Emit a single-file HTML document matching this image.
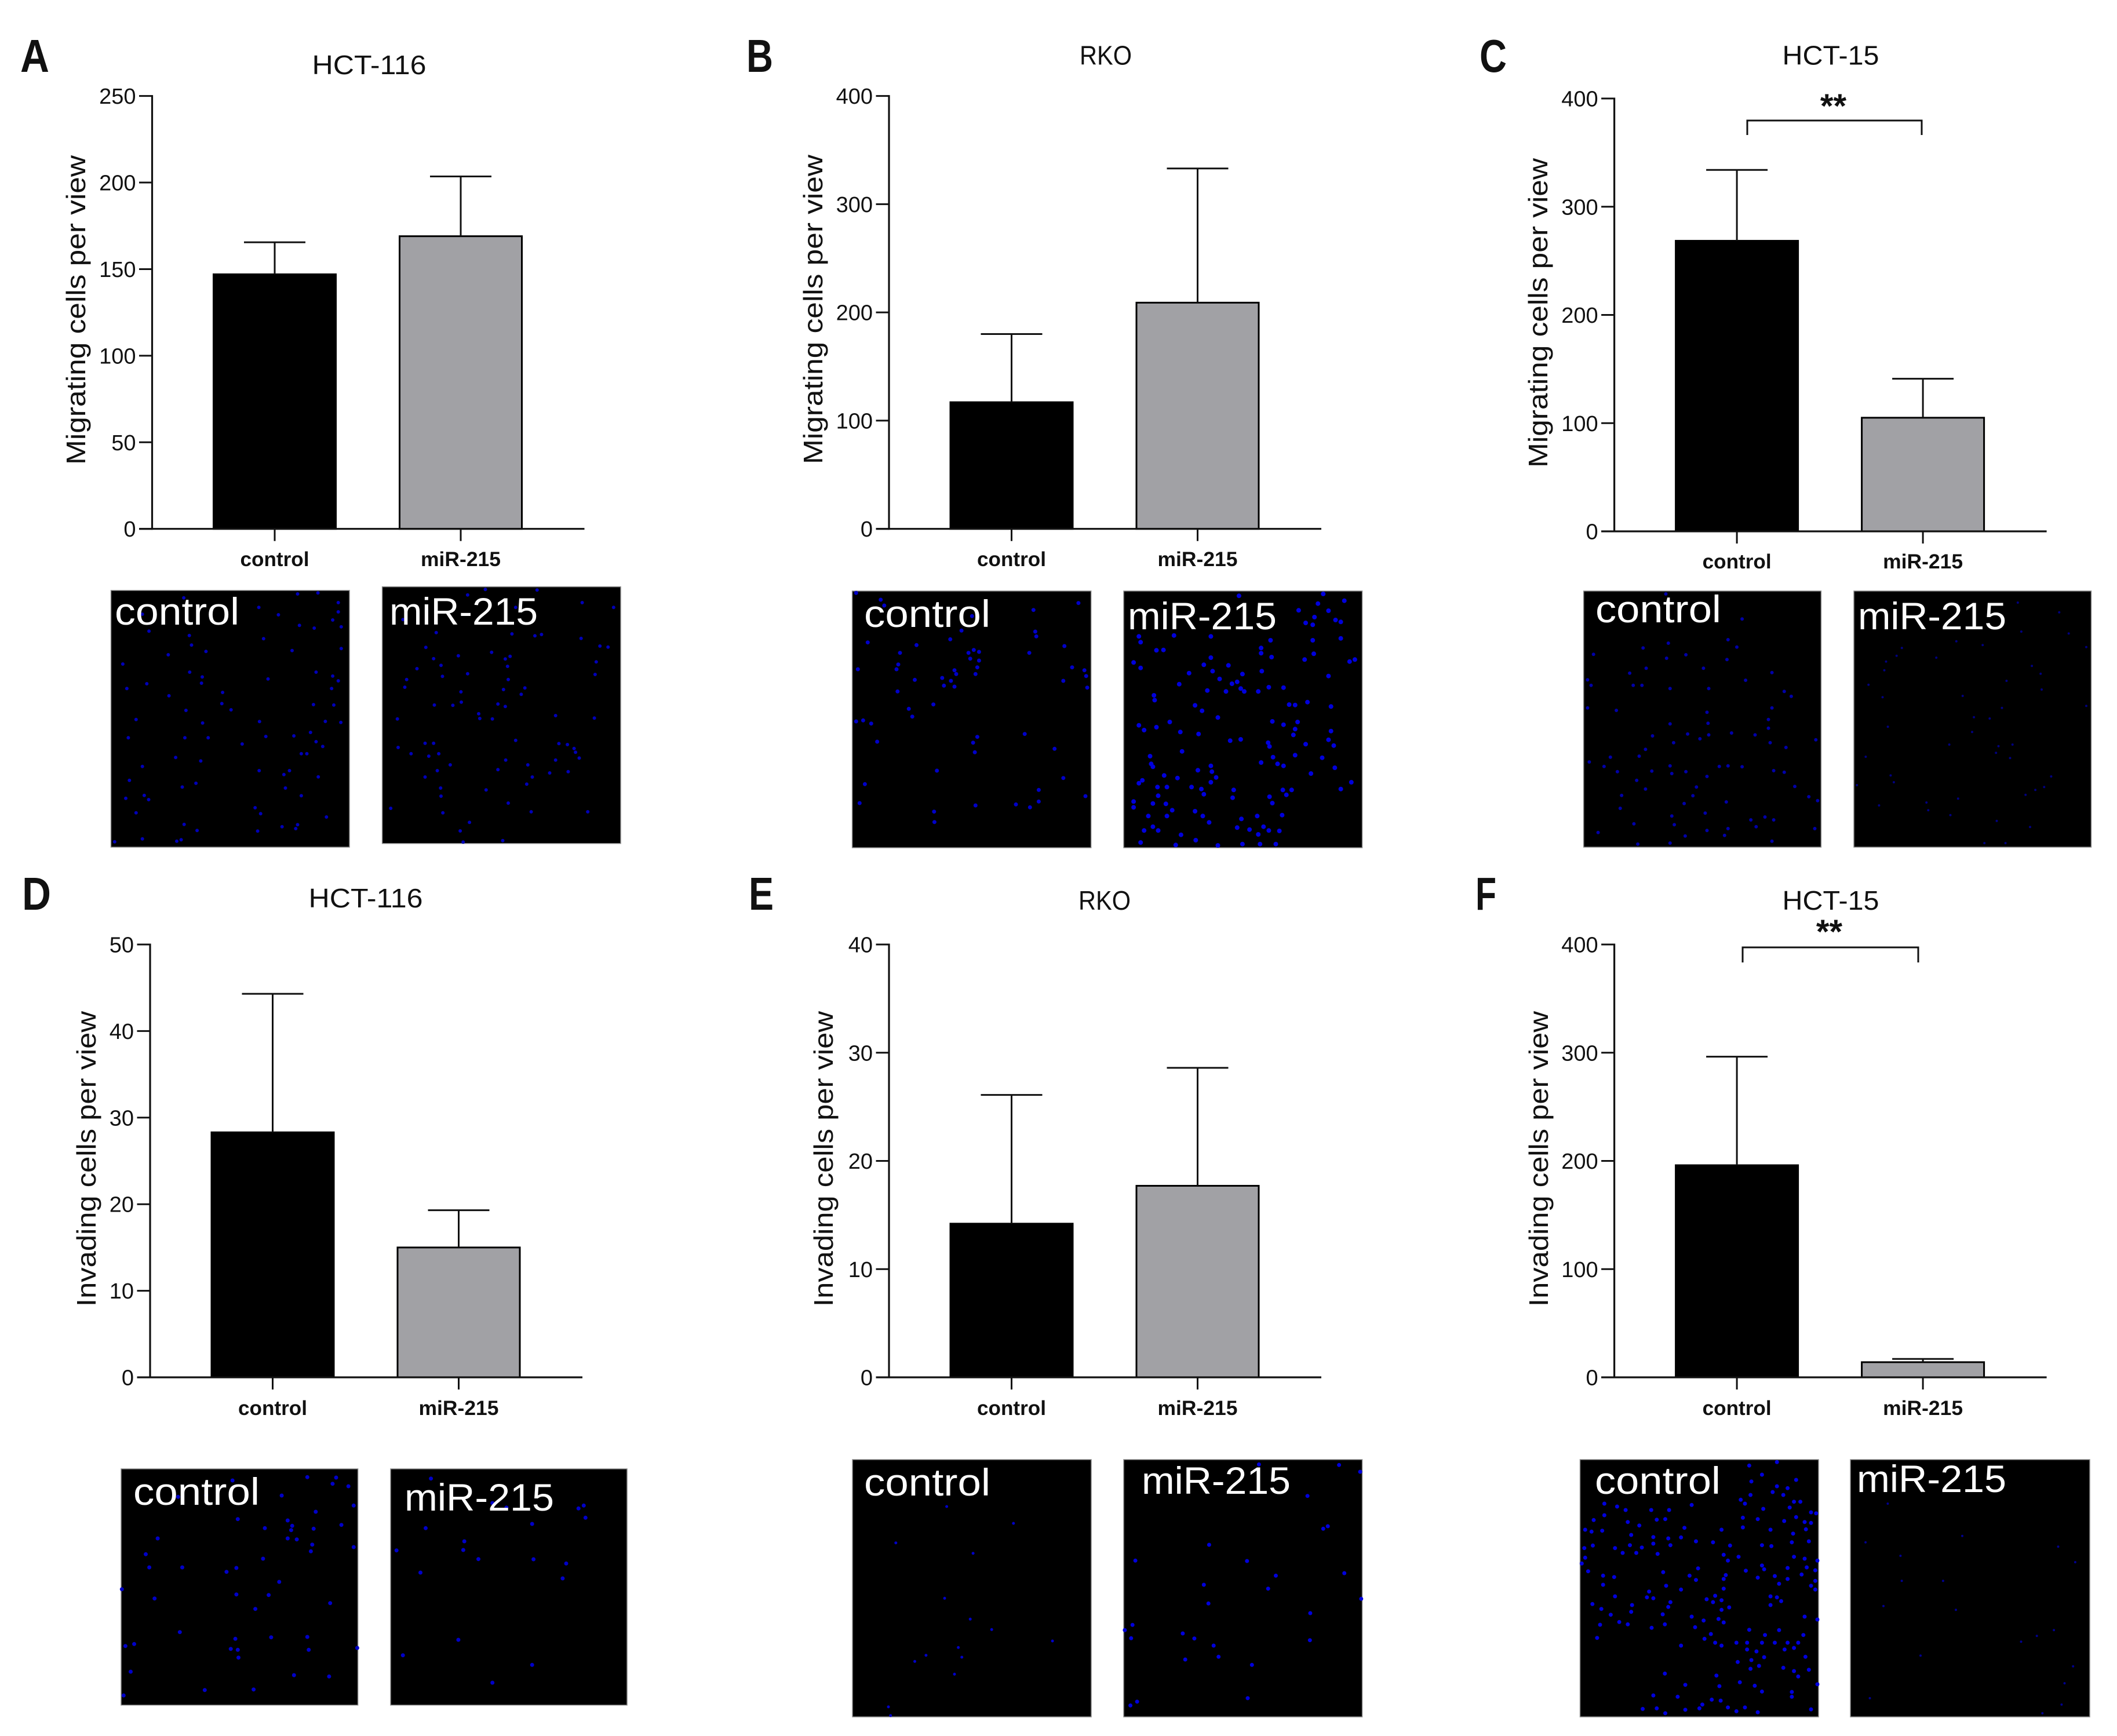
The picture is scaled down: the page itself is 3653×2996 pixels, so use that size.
<!DOCTYPE html>
<html lang="en">
<head>
<meta charset="utf-8">
<title>miR-215 migration and invasion assays</title>
<style>
html,body{margin:0;padding:0;background:#fff}
svg{display:block}
text{font-family:"Liberation Sans",sans-serif;fill:#111}
</style>
</head>
<body>
<svg id="fig" xmlns="http://www.w3.org/2000/svg" width="3653" height="2996" viewBox="0 0 3653 2996"></svg>
<script>
const categories = ['control', 'miR-215'];

const valuesA = [147, 169];
const errorTopsA = [165.5, 203.5];
const ticksA = ['0', '50', '100', '150', '200', '250'];

const valuesB = [117, 209];
const errorTopsB = [180, 333];
const ticksB = ['0', '100', '200', '300', '400'];

const valuesC = [268.5, 105];
const errorTopsC = [334, 141];
const ticksC = ['0', '100', '200', '300', '400'];

const valuesD = [28.3, 15];
const errorTopsD = [44.3, 19.3];
const ticksD = ['0', '10', '20', '30', '40', '50'];

const valuesE = [14.2, 17.7];
const errorTopsE = [26.1, 28.6];
const ticksE = ['0', '10', '20', '30', '40'];

const valuesF = [196, 14];
const errorTopsF = [296.3, 17];
const ticksF = ['0', '100', '200', '300', '400'];

const NS = 'http://www.w3.org/2000/svg';
const fig = document.getElementById('fig');

function make(tag, attrs, parent) {
  const el = document.createElementNS(NS, tag);
  for (const k in attrs) el.setAttribute(k, attrs[k]);
  parent.appendChild(el);
  return el;
}

function drawPanel(p) {
  const g = make('g', {}, fig);
  
  

  const yMax = Number(p.ticks[p.ticks.length - 1]);
  const yScale = v => p.base - (v / yMax) * (p.base - p.top);
  const barLeft = i => p.axisX + 106 + i * 321;
  const barWidth = 211;
  const barCentre = i => barLeft(i) + barWidth / 2;

  const letter = make('text', {x: p.letterX, y: p.letterY, 'font-size': 80, 'font-weight': 'bold', textLength: p.letterW, lengthAdjust: 'spacingAndGlyphs', fill: '#000'}, g);
  letter.textContent = p.id;
  
  

  const title = make('text', {x: p.titleX, y: p.titleY + 16, 'font-size': 46, 'text-anchor': 'middle', textLength: p.titleW, lengthAdjust: 'spacingAndGlyphs'}, g);
  title.textContent = p.title;
  
  

  const yTitle = make('text', {transform: 'translate(' + p.yTitleX + ' ' + p.yTitleY + ') rotate(-90)', 'font-size': 46, 'text-anchor': 'middle', textLength: p.yTitleW, lengthAdjust: 'spacingAndGlyphs'}, g);
  yTitle.textContent = p.yTitle;
  
  

  p.values.forEach((v, i) => {
    const bar = make('rect', {x: barLeft(i), y: yScale(v), width: barWidth, height: p.base - yScale(v), fill: i === 0 ? '#000' : '#a1a1a5', stroke: '#000', 'stroke-width': 3}, g);
    
    

    const err = make('path', {d: 'M' + barCentre(i) + ' ' + yScale(v) + 'V' + yScale(p.errorTops[i]) + 'M' + (barCentre(i) - 53) + ' ' + yScale(p.errorTops[i]) + 'H' + (barCentre(i) + 53), fill: 'none', stroke: '#111', 'stroke-width': 3}, g);
    
    

    const xTick = make('line', {x1: barCentre(i), x2: barCentre(i), y1: p.base, y2: p.base + 21, stroke: '#111', 'stroke-width': 3}, g);
    
    

    const xLabel = make('text', {x: barCentre(i), y: p.labelY + 12, 'font-size': 35, 'font-weight': 'bold', 'text-anchor': 'middle', textLength: i === 0 ? 119 : 138, lengthAdjust: 'spacingAndGlyphs'}, g);
    xLabel.textContent = categories[i];
    
    
  });

  const yAxis = make('line', {x1: p.axisX, x2: p.axisX, y1: p.top - 1.5, y2: p.base + 1.5, stroke: '#111', 'stroke-width': 3.2}, g);
  
  

  const xAxis = make('line', {x1: p.axisX - 22.5, x2: p.axisX + 746, y1: p.base, y2: p.base, stroke: '#111', 'stroke-width': 3.2}, g);
  
  

  p.ticks.forEach(t => {
    const y = yScale(Number(t));
    const tick = make('line', {x1: p.axisX - 22.5, x2: p.axisX, y1: y, y2: y, stroke: '#111', 'stroke-width': 3}, g);
    
    

    const label = make('text', {x: p.axisX - 28, y: y + 13.5, 'font-size': 38, 'text-anchor': 'end'}, g);
    label.textContent = t;
    
    
  });

  if (p.bracket) {
    const br = make('path', {d: 'M' + p.bracket.x1 + ' ' + p.bracket.drop + 'V' + p.bracket.y + 'H' + p.bracket.x2 + 'V' + p.bracket.drop, fill: 'none', stroke: '#111', 'stroke-width': 3}, g);
    
    

    const stars = make('text', {x: (p.bracket.x1 + p.bracket.x2) / 2 - 2, y: p.bracket.starY + 26, 'font-size': 58, 'font-weight': 'bold', 'text-anchor': 'middle', fill: '#000'}, g);
    stars.textContent = '**';
    
    
  }
}

function drawMicrograph(m) {
  const g = make('g', {}, fig);
  
  

  const bg = make('rect', {x: m.x1, y: m.y1, width: m.x2 - m.x1, height: m.y2 - m.y1, fill: '#000', stroke: '#8a8a8a', 'stroke-width': 1.5}, g);
  
  

  let d = '';
  m.dots.trim().split(/\s+/).forEach(s => {
    const c = s.split(',');
    d += 'M' + (m.zx + c[0] / m.sx).toFixed(1) + ' ' + (m.zy + c[1] / 3).toFixed(1) + 'h0';
  });
  const nuclei = make('path', {d: d, fill: 'none', stroke: m.color || '#0000c8', 'stroke-width': m.r || 7, 'stroke-linecap': 'round'}, g);
  
  

  const label = make('text', {x: m.tx, y: m.ty, 'font-size': 66, textLength: m.tw, lengthAdjust: 'spacingAndGlyphs', style: 'fill:#fff'}, g);
  label.textContent = m.label;
  
  
}

drawPanel({id: 'A', title: 'HCT-116', titleX: 637, titleY: 112, titleW: 197, yTitle: 'Migrating cells per view', yTitleX: 147, yTitleY: 535, yTitleW: 534, axisX: 262.5, top: 165.6, base: 912.7, labelY: 965, letterX: 35, letterY: 124, letterW: 50, values: valuesA, errorTops: errorTopsA, ticks: ticksA});
drawPanel({id: 'B', title: 'RKO', titleX: 1908, titleY: 95.5, titleW: 90, yTitle: 'Migrating cells per view', yTitleX: 1419, yTitleY: 534, yTitleW: 534, axisX: 1534, top: 165.6, base: 912.7, labelY: 965, letterX: 1288, letterY: 124, letterW: 46, values: valuesB, errorTops: errorTopsB, ticks: ticksB});
drawPanel({id: 'C', title: 'HCT-15', titleX: 3159, titleY: 95.5, titleW: 167, yTitle: 'Migrating cells per view', yTitleX: 2670, yTitleY: 540, yTitleW: 534, axisX: 2785.6, top: 170, base: 917, labelY: 969, letterX: 2553, letterY: 124, letterW: 47, values: valuesC, errorTops: errorTopsC, ticks: ticksC, bracket: {x1: 3015, x2: 3316, y: 208, drop: 233, starY: 177}});
drawPanel({id: 'D', title: 'HCT-116', titleX: 631, titleY: 1550, titleW: 197, yTitle: 'Invading cells per view', yTitleX: 165, yTitleY: 2000, yTitleW: 510, axisX: 259, top: 1630, base: 2377, labelY: 2430, letterX: 38, letterY: 1570, letterW: 50, values: valuesD, errorTops: errorTopsD, ticks: ticksD});
drawPanel({id: 'E', title: 'RKO', titleX: 1906, titleY: 1554, titleW: 90, yTitle: 'Invading cells per view', yTitleX: 1437, yTitleY: 2000, yTitleW: 510, axisX: 1534, top: 1630, base: 2377, labelY: 2430, letterX: 1292, letterY: 1570, letterW: 43, values: valuesE, errorTops: errorTopsE, ticks: ticksE});
drawPanel({id: 'F', title: 'HCT-15', titleX: 3159, titleY: 1554, titleW: 167, yTitle: 'Invading cells per view', yTitleX: 2671, yTitleY: 2000, yTitleW: 510, axisX: 2785.6, top: 1630, base: 2377, labelY: 2430, letterX: 2546, letterY: 1570, letterW: 36, values: valuesF, errorTops: errorTopsF, ticks: ticksF, bracket: {x1: 3007, x2: 3310, y: 1635, drop: 1661, starY: 1602}});

drawMicrograph({name: 'a-control', label: 'control', x1: 191.5, x2: 603, y1: 1019, y2: 1462, tx: 198, ty: 1078, tw: 215, zx: 150, zy: 980, sx: 1.568, r: 6, color: '#0000b8',
  dots: '262,155 570,135 625,130 680,180 465,205 150,240 518,243 680,228 665,270 575,298 615,312 688,305 168,328 277,350 283,400 478,367 555,428 688,418 322,433 220,450 97,498 278,540 620,540 312,565 490,575 665,560 680,585 162,600 310,597 108,625 662,625 222,662 367,645 613,708 668,710 365,703 390,735 268,738 133,785 313,803 467,796 645,795 687,800 265,880 328,880 112,880 484,873 560,870 605,852 420,912 620,900 638,925 580,962 595,962 240,982 308,1000 150,1028 548,1050 466,1050 533,1070 626,1082 115,1100 295,1115 258,1135 537,1140 155,1178 167,1200 105,1193 580,1180 455,1242 648,1290 133,1268 470,1273 263,1328 528,1340 570,1330 298,1360 565,1350 462,1363 255,1408 243,1415 150,1403 75,1418'});
drawMicrograph({name: 'a-mir-215', label: 'miR-215', x1: 659.6, x2: 1071, y1: 1012.7, y2: 1455.7, tx: 672, ty: 1078, tw: 256, zx: 150, zy: 980, sx: 1.568, r: 6, color: '#0000b8',
  dots: '1078,112 1218,115 1030,140 1160,205 855,268 1340,180 1425,205 945,335 1230,345 1212,352 1150,342 1337,365 917,412 1388,405 1410,410 1095,437 1005,455 1145,458 1132,472 938,470 1378,487 1138,510 893,522 958,505 1030,548 1375,552 962,562 1140,578 865,578 860,618 1127,630 1185,622 1012,642 1175,655 990,712 1013,695 1112,705 1132,718 940,710 1060,755 1063,780 1268,765 1097,782 1373,778 840,782 1160,893 1277,910 1300,915 1318,935 1322,955 1332,985 915,908 938,908 842,930 925,975 952,962 877,962 983,1020 1133,995 1268,995 1193,1020 948,1050 1112,1045 1252,1062 1302,1055 1205,1083 915,1083 1190,1120 957,1140 1080,1150 958,1182 822,1245 1140,1218 1202,1263 1355,1263 963,1268 1035,1318 1010,1362 1018,1420 1125,1412'});
drawMicrograph({name: 'b-control', label: 'control', x1: 1470.6, x2: 1882.7, y1: 1020, y2: 1463, tx: 1491, ty: 1082, tw: 218, zx: 1450, zy: 1010, sx: 1.65,
  dots: '45,40 115,75 125,105 678,92 550,128 375,160 555,240 558,265 345,235 313,280 78,296 217,310 638,315 380,335 365,350 395,345 370,380 395,390 390,425 385,460 170,350 165,410 160,435 538,350 325,440 330,460 290,480 315,495 295,520 325,525 50,435 212,490 660,425 695,440 635,495 700,470 703,530 163,550 265,617 195,640 205,680 45,705 65,700 88,716 390,785 378,815 525,770 105,810 610,847 383,865 275,960 70,1030 635,998 565,1060 55,1128 500,1135 385,1140 565,1120 540,1150 267,1172 268,1226 698,1092'});
drawMicrograph({name: 'b-mir-215', label: 'miR-215', x1: 1939, x2: 2350.6, y1: 1020, y2: 1463, tx: 1946, ty: 1086, tw: 257, zx: 1450, zy: 1010, sx: 1.65, r: 8, color: '#0000dc',
  dots: '1135,55 1375,45 1360,95 1435,80 1305,130 1390,132 1350,165 1325,195 1345,205 1410,180 1425,190 850,265 855,295 950,260 1055,265 1225,285 1345,285 1425,275 900,337 920,335 1198,325 1198,352 1228,372 1348,355 1322,385 1055,375 1450,395 1465,385 835,400 855,428 1035,412 1105,415 1060,445 1145,460 1200,445 993,455 1390,470 1080,485 1130,500 1115,510 1140,535 965,512 1045,545 1098,550 1150,550 1190,550 1220,528 1262,530 893,570 895,595 1010,622 1030,650 1075,685 1278,618 1295,620 1397,628 1330,605 938,708 1230,705 1262,722 1302,708 850,725 865,750 900,735 968,760 1020,770 1295,745 1290,775 1397,755 1140,798 1110,805 1218,815 1222,835 1325,823 1390,800 1405,830 973,860 882,885 885,925 890,940 1295,880 1232,890 1245,925 1198,918 1262,935 1372,893 1055,935 1058,965 1018,958 1408,945 1340,975 922,985 960,998 1070,995 1055,1020 860,1010 850,1025 1455,1020 1000,1045 1028,1055 1035,1082 903,1045 905,1090 930,1045 1120,1060 1260,1060 1285,1060 1270,1085 1117,1100 1222,1095 1425,1055 835,1120 835,1150 890,1130 927,1132 1230,1128 945,1165 930,1195 1010,1170 1032,1195 877,1195 1050,1228 1187,1195 1142,1210 1258,1190 1130,1255 890,1250 865,1270 905,1270 1165,1265 1205,1250 1190,1290 1220,1270 1250,1272 970,1292 1012,1320 855,1332 955,1345 1075,1347 1145,1340 1195,1340 1240,1340'});
drawMicrograph({name: 'c-control', label: 'control', x1: 2732.7, x2: 3142.4, y1: 1020, y2: 1462, tx: 2753, ty: 1074, tw: 217, zx: 2700, zy: 1010, sx: 1.65, r: 6, color: '#0000a8',
  dots: '288,45 505,175 465,282 490,320 295,300 223,325 82,358 345,360 290,378 462,385 232,430 395,430 185,455 590,452 65,490 75,518 195,518 220,518 300,535 410,535 515,492 625,550 645,575 65,635 147,648 405,658 590,635 580,695 580,740 300,718 408,715 475,765 250,780 350,770 385,795 410,775 310,815 542,775 585,815 715,800 630,840 230,850 130,890 212,885 70,915 112,938 440,938 465,935 505,940 300,935 150,965 248,962 345,965 305,975 405,990 595,960 625,968 205,1010 375,1045 365,1090 230,1055 162,1088 655,1042 720,1115 695,1095 340,1130 460,1122 158,1155 400,1180 305,1195 312,1240 530,1215 570,1200 595,1215 545,1250 465,1260 455,1295 197,1235 405,1270 343,1298 95,1280 712,1260 590,1325 300,1335 208,1340'});
drawMicrograph({name: 'c-mir-215', label: 'miR-215', x1: 3199, x2: 3608.5, y1: 1020, y2: 1462, tx: 3206, ty: 1086, tw: 256, zx: 2700, zy: 1010, sx: 1.65, r: 4, color: '#000080',
  dots: '960,325 945,365 915,395 910,440 1058,375 1115,290 1190,310 1300,240 1435,250 1485,320 1290,90 1408,140 1330,418 1355,458 1258,495 1358,540 865,515 905,580 1133,573 1245,635 1165,683 1210,690 1485,625 920,733 1160,760 1095,825 1235,833 1275,825 1228,868 1268,895 857,888 928,985 937,1020 1385,990 832,1035 1365,1045 1340,1060 1312,1085 1120,1105 1030,1125 1035,1165 895,1140 1098,1190 1230,1220 1325,1252 1195,1335 1255,1335'});
drawMicrograph({name: 'd-control', label: 'control', x1: 209, x2: 617.6, y1: 2535, y2: 2942.7, tx: 230, ty: 2597, tw: 218, zx: 180, zy: 2520, sx: 1.65,
  dots: '578,88 660,90 650,122 695,135 365,105 290,182 210,190 505,183 710,235 602,267 380,305 522,312 675,335 535,340 457,352 532,362 596,355 152,405 522,405 548,410 592,437 710,450 588,472 452,510 118,487 128,555 222,555 376,558 348,578 498,630 50,668 376,695 468,698 143,716 643,740 430,770 215,890 373,925 475,917 578,915 60,962 85,952 360,977 380,982 582,982 382,1022 720,972 540,1113 640,1120 75,1095 286,1190 425,1187 55,1218'});
drawMicrograph({name: 'd-mir-215', label: 'miR-215', x1: 674, x2: 1082, y1: 2535, y2: 2942.7, tx: 698, ty: 2607, tw: 258, zx: 180, zy: 2520, sx: 1.65,
  dots: '930,95 1105,222 1145,245 1350,250 1365,235 1370,298 1218,330 915,352 1025,420 1022,465 832,467 1065,512 1222,513 1315,535 900,582 1305,612 1008,930 850,1010 1218,1060 1105,1152'});
drawMicrograph({name: 'e-control', label: 'control', x1: 1471, x2: 1883, y1: 2519, y2: 2963, tx: 1491, ty: 2581, tw: 218, zx: 1450, zy: 2510, sx: 1.65, r: 5,
  dots: '303,270 493,357 158,458 378,512 297,745 370,853 431,907 604,966 336,1000 244,1040 346,1050 212,1072 325,1138 137,1307 143,1352'});
drawMicrograph({name: 'e-mir-215', label: 'miR-215', x1: 1939, x2: 2350.6, y1: 2519, y2: 2963, tx: 1970, ty: 2578, tw: 257, zx: 1450, zy: 2510, sx: 1.65, color: '#0000dc',
  dots: '1192,52 1420,55 1480,90 1330,215 1375,385 1388,372 1050,468 840,550 1158,552 1240,628 1435,615 1035,675 1218,695 1483,748 1048,772 1338,822 832,883 810,910 828,952 975,927 1008,953 1337,962 1063,990 1077,1048 982,1062 1172,1090 1160,1262 826,1300 845,1280'});
drawMicrograph({name: 'f-control', label: 'control', x1: 2726.5, x2: 3138, y1: 2519, y2: 2963, tx: 2752, ty: 2578, tw: 217, zx: 2500, zy: 2480, sx: 1.36, color: '#0000dc',
  dots: '705,148 770,130 735,195 710,230 815,222 770,255 760,285 795,265 785,300 708,300 685,325 695,345 810,335 825,335 365,345 395,360 415,378 475,378 517,378 570,352 738,372 800,365 365,405 340,430 420,440 488,428 508,425 690,418 725,425 787,435 815,415 850,390 862,395 835,440 850,445 320,480 335,490 360,485 447,458 553,470 640,480 755,480 690,468 838,478 808,500 428,507 480,518 515,525 545,520 805,545 845,540 425,560 520,560 480,552 338,562 318,575 390,575 453,572 580,540 620,545 660,562 735,560 757,565 408,600 490,605 440,600 645,610 680,620 810,620 835,630 865,640 320,625 312,655 655,640 735,665 585,680 740,685 795,678 840,675 860,690 503,700 327,695 650,715 697,692 362,718 388,725 565,718 580,740 645,735 725,728 765,720 795,735 828,712 775,760 362,765 510,770 860,745 850,770 860,790 545,790 470,800 645,785 480,835 390,825 625,822 755,825 770,830 605,840 620,855 640,845 520,855 465,830 337,865 780,850 755,870 430,870 358,890 515,880 658,882 640,895 428,905 502,918 570,930 835,930 865,945 633,942 380,920 400,958 598,950 645,960 355,972 420,970 507,970 578,985 476,988 705,998 775,1000 615,1020 600,1045 348,1040 742,1025 832,1025 625,1065 640,1080 545,1080 675,1065 700,1065 735,1065 765,1065 795,1065 820,1065 700,1100 788,1100 810,1092 722,1110 740,1140 837,1138 710,1155 728,1185 678,1165 785,1195 708,1200 810,1212 845,1205 507,1225 628,1235 820,1240 683,1270 865,1280 555,1283 718,1288 635,1290 735,1318 805,1320 480,1338 537,1345 617,1360 638,1365 805,1345 595,1385 455,1408 488,1405 555,1412 588,1405 655,1400 695,1400 675,1420 725,1425 850,1410 508,1430'});
drawMicrograph({name: 'f-mir-215', label: 'miR-215', x1: 3193, x2: 3606, y1: 2519, y2: 2963, tx: 3204, ty: 2575, tw: 258, zx: 2500, zy: 2480, sx: 1.36, r: 4, color: '#000090',
  dots: '1205,512 978,545 1060,615 1430,568 1470,648 1063,745 1160,745 1020,875 1190,895 1420,1000 1380,1030 1343,1060 1107,1132 1465,1187 1445,1275 988,1352 1438,1385 1393,1430 1030,345'});
</script>
</body>
</html>
